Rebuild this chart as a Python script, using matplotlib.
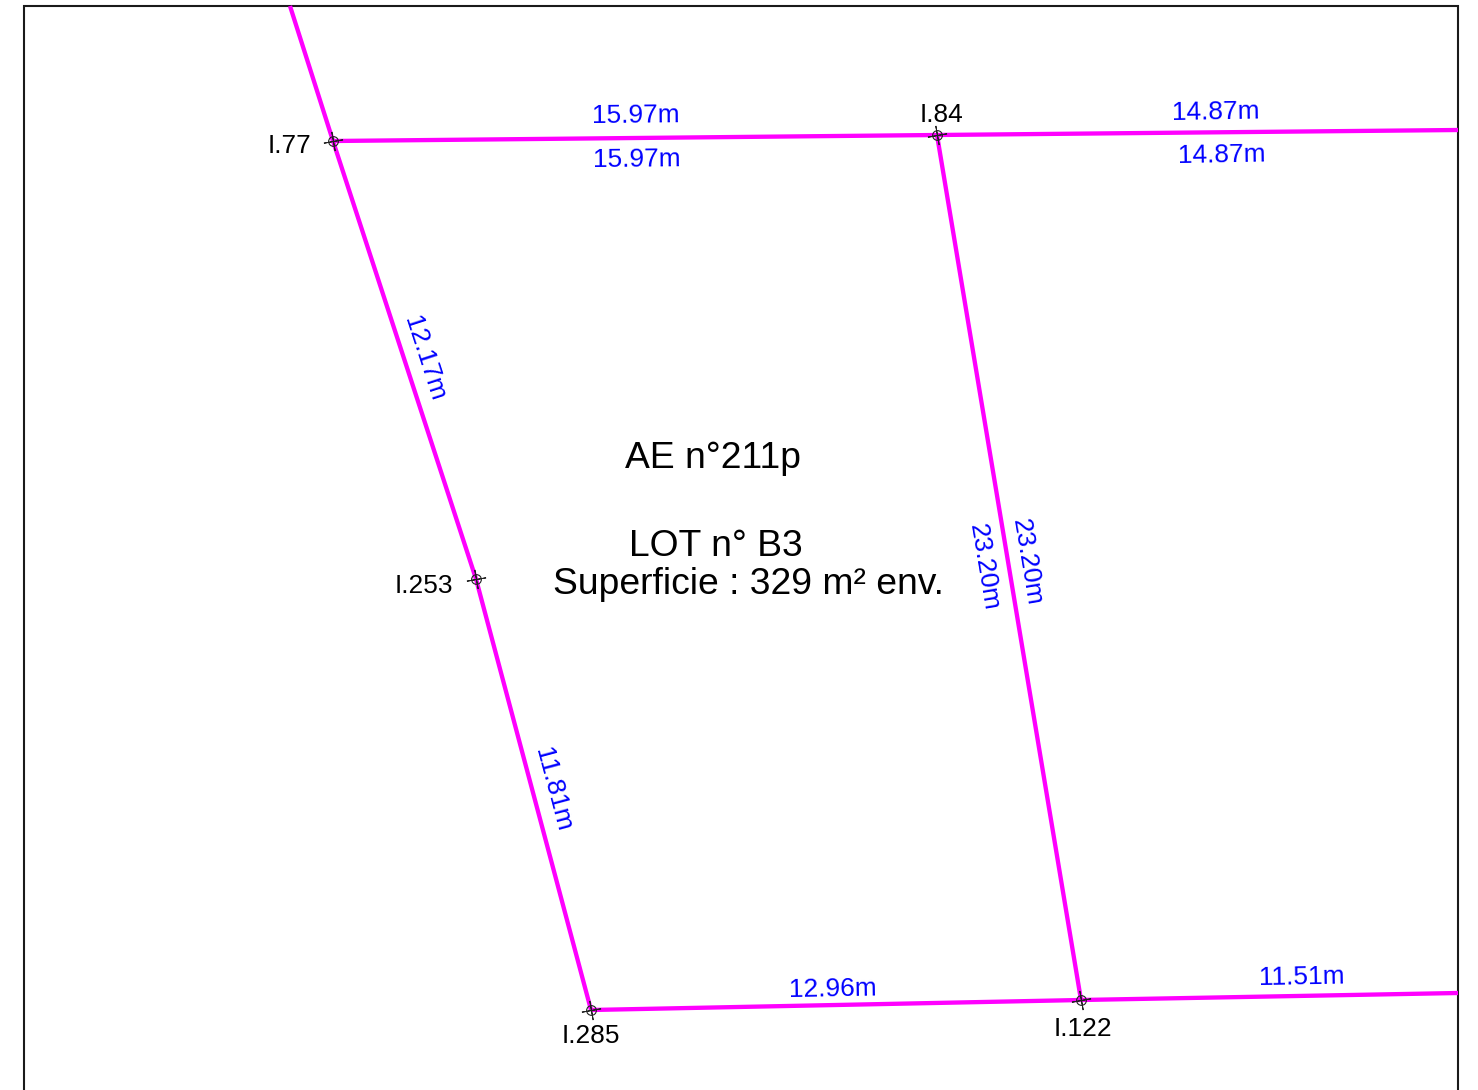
import matplotlib
matplotlib.use('Agg')
import matplotlib.pyplot as plt

plt.rcParams['font.family'] = ['Liberation Sans', 'DejaVu Sans']

# survey points (pixel coordinates)
frame_x = [24, 24, 1458, 1458]
frame_y = [1090, 5.5, 5.5, 1090]

left_x = [290, 333, 476, 591]
left_y = [6, 141, 579, 1010]
top_x = [333, 937, 1458]
top_y = [141, 135, 130]
mid_x = [937, 1081]
mid_y = [135, 1000]
bottom_x = [591, 1081, 1458]
bottom_y = [1010, 1000, 993]

# boundary markers
point_x = [333, 937, 476, 591, 1081]
point_y = [141, 135, 579, 1010, 1000]

# black point names
names = ['I.77', 'I.84', 'I.253', 'I.285', 'I.122']
names_x = [290, 941, 424, 591, 1083]
names_y = [146, 115, 586, 1036, 1029]

# blue lengths
lengths = ['15.97m', '15.97m', '14.87m', '14.87m', '12.17m', '11.81m',
           '23.20m', '23.20m', '12.96m', '11.51m']
lengths_x = [636, 637, 1216, 1222, 424, 553, 984, 1027, 833, 1302]
lengths_y = [116, 160, 112, 155, 359, 790, 567, 562, 989, 977]
lengths_rot = [0.5, 0.5, 1, 1, -72, -75, -80.5, -80.5, 1, 1]

fig = plt.figure(figsize=(14.78, 10.90), dpi=100)
ax = fig.add_axes([0, 0, 1, 1])
ax.set_xlim(0, 1478)
ax.set_ylim(1090, 0)
ax.axis('off')

ax.plot(frame_x, frame_y, color='#1a1a1a', lw=1.5, solid_joinstyle='miter')

for xs, ys in [(left_x, left_y), (top_x, top_y), (mid_x, mid_y), (bottom_x, bottom_y)]:
    ax.plot(xs, ys, color='#ff00ff', lw=3.1, solid_capstyle='butt')

# small survey crosses
ax.plot(point_x, point_y, ls='none', marker='o', ms=7, mfc='none', mec='#222222', mew=0.8)
ax.plot(point_x, point_y, ls='none', marker=(4, 2, 10), ms=14, mec='#222222', mew=0.7)

for s, x, y in zip(names, names_x, names_y):
    ax.text(x, y, s, fontsize=18.9, color='black', ha='center', va='center')

for s, x, y, r in zip(lengths, lengths_x, lengths_y, lengths_rot):
    ax.text(x, y, s, fontsize=18.9, color='#0000ff', ha='center', va='center',
            rotation=r, rotation_mode='anchor')

ax.text(713, 459, 'AE n°211p', fontsize=26.8, ha='center', va='center')
ax.text(716, 547, 'LOT n° B3', fontsize=26.8, ha='center', va='center')
ax.text(748, 584, 'Superficie : 329 m² env.', fontsize=26.8, ha='center', va='center')

fig.savefig('out.png', dpi=100)
